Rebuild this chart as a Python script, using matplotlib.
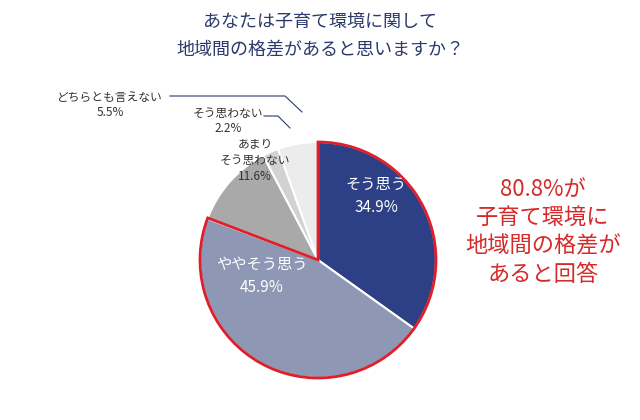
import matplotlib.pyplot as plt
from matplotlib.patches import Wedge

plt.rcParams['font.family'] = 'Noto Sans CJK JP'

labels = ['そう思う', 'ややそう思う', 'あまり\nそう思わない', 'そう思わない', 'どちらとも言えない']
values = [34.9, 45.9, 11.6, 2.2, 5.5]
colors = ['#2d3f85', '#8e98b4', '#a9a9a9', '#d2d2d2', '#ececec']

H = 420
fig = plt.figure(figsize=(6.4, 4.2), dpi=100)
ax = fig.add_axes([0, 0, 1, 1])

cx, cy, r = 318, H - 260, 118
ax.pie(values, colors=colors, startangle=90, counterclock=False,
       center=(cx, cy), radius=r, frame=True,
       wedgeprops=dict(edgecolor='white', linewidth=1.5))
ax.set_xlim(0, 640)
ax.set_ylim(0, H)
ax.set_aspect('equal')
ax.axis('off')

# red outline around the "agree" slices
agree = values[0] + values[1]
ax.add_patch(Wedge((cx, cy), r, 90 - 360 * agree / 100, 90, fill=False,
                   edgecolor='#e01e2a', linewidth=2))

def t(x, y, s, **kw):
    ax.text(x, H - y, s, ha='center', va='center', **kw)

t(320, 22, 'あなたは子育て環境に関して', fontsize=13, color='#2b3a6b')
t(320, 50, '地域間の格差があると思いますか？', fontsize=13, color='#2b3a6b')

t(376, 196, 'そう思う\n34.9%', fontsize=11, color='white', linespacing=1.5)
t(262, 276, 'ややそう思う\n45.9%', fontsize=11, color='white', linespacing=1.5)
t(255, 160, 'あまり\nそう思わない\n11.6%', fontsize=8.5, color='#333333', linespacing=1.3)
t(228, 121, 'そう思わない\n2.2%', fontsize=8.5, color='#333333', linespacing=1.3)
ax.plot([264, 278, 290], [H - 116, H - 116, H - 128], color='#2b3a6b', lw=0.8)
t(110, 105, 'どちらとも言えない\n5.5%', fontsize=8.5, color='#333333', linespacing=1.3)
ax.plot([170, 285, 302], [H - 96, H - 96, H - 112], color='#2b3a6b', lw=0.8)

t(543, 232, '80.8%が\n子育て環境に\n地域間の格差が\nあると回答',
  fontsize=16, color='#d42a2a', linespacing=1.3)

fig.savefig('out.png', dpi=100)
